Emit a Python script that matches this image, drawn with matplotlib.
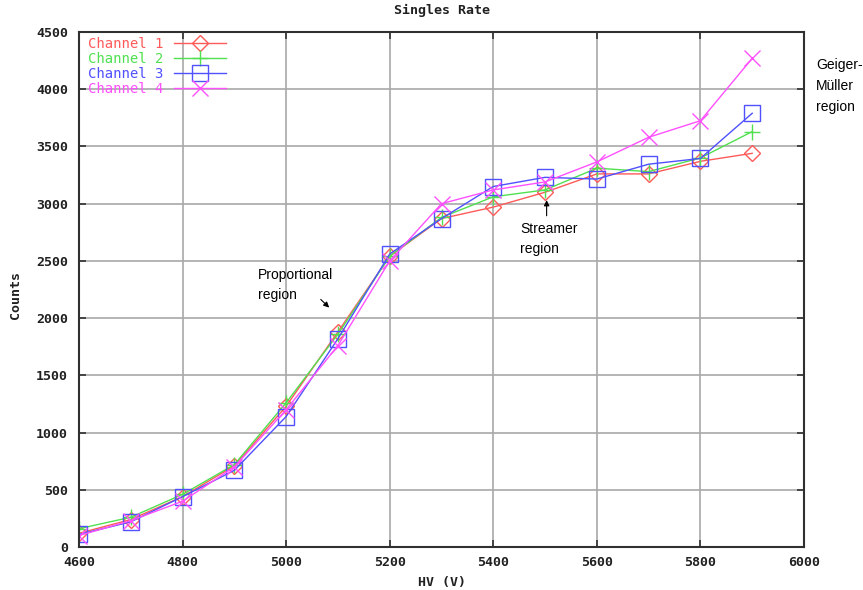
import matplotlib
matplotlib.use("Agg")
import matplotlib.pyplot as plt

hv = [4600, 4700, 4800, 4900, 5000, 5100, 5200, 5300, 5400, 5500, 5600, 5700, 5800, 5900]
ch1 = [120, 240, 440, 710, 1230, 1880, 2540, 2870, 2970, 3100, 3260, 3260, 3370, 3440]
ch2 = [160, 260, 460, 720, 1260, 1860, 2540, 2880, 3060, 3120, 3310, 3280, 3400, 3630]
ch3 = [110, 220, 440, 670, 1140, 1820, 2560, 2870, 3150, 3230, 3215, 3345, 3395, 3790]
ch4 = [100, 230, 400, 700, 1200, 1760, 2500, 3000, 3120, 3190, 3365, 3580, 3725, 4270]
labels = ["Channel 1", "Channel 2", "Channel 3", "Channel 4"]
colors = ["#ff5a5a", "#50e050", "#5050ff", "#ff50ff"]
markers = ["D", "+", "s", "x"]
msizes = [8, 11, 11, 11]

W, H = 863, 590
mono = "DejaVu Sans Mono"
fig = plt.figure(figsize=(W/100, H/100), dpi=100)
ax = fig.add_axes([79/W, 1-547/H, (804-79)/W, (547-32)/H])

for y, lab, c, m, ms in zip([ch1, ch2, ch3, ch4], labels, colors, markers, msizes):
    ax.plot(hv, y, color=c, marker=m, markersize=ms, markerfacecolor="none",
            markeredgecolor=c, markeredgewidth=1.0, linewidth=1.0, label=lab)

ax.set_xlim(4600, 6000)
ax.set_ylim(0, 4500)
ax.set_xticks(range(4600, 6001, 200))
ax.set_yticks(range(0, 4501, 500))
ax.grid(True, color="#a8a8a8", linewidth=1.2)
ax.tick_params(axis="both", direction="in", top=True, right=True, length=5, width=1.2,
               labelsize=9.5, color="#303030")
ax.tick_params(axis="y", pad=8)
ax.tick_params(axis="x", pad=6.5)
for lbl in ax.get_xticklabels() + ax.get_yticklabels():
    lbl.set_family(mono)
    lbl.set_weight("bold")
    lbl.set_color("#202020")
for s in ax.spines.values():
    s.set_linewidth(1.5)
    s.set_color("#303030")

ax.set_xlabel("HV (V)", family=mono, fontsize=9.5, weight="bold", labelpad=5, color="#202020")
ax.set_ylabel("Counts", family=mono, fontsize=9.5, weight="bold", color="#202020")
ax.yaxis.set_label_coords((22-79)/(804-79), (547-295)/(547-32))
ax.set_title("Singles Rate", family=mono, fontsize=9.5, weight="bold", pad=13, color="#202020")

leg = ax.legend(loc="upper left", frameon=False, markerfirst=False,
                labelcolor="linecolor", handlelength=3.7,
                prop={"family": mono, "size": 10},
                bbox_to_anchor=(88/W, 1-37/H), bbox_transform=fig.transFigure,
                borderaxespad=0, borderpad=0, labelspacing=0.08, handletextpad=0.8)

sans = "Liberation Sans"
ax.text(4946, 2290, "Proportional\nregion", family=sans, fontsize=10,
        ha="left", va="center", linespacing=1.6)
ax.annotate("", xy=(5087, 2075), xytext=(5063, 2180),
            arrowprops=dict(arrowstyle="-|>", color="black", lw=0.8, mutation_scale=8))
ax.text(5452, 2690, "Streamer\nregion", family=sans, fontsize=10,
        ha="left", va="center", linespacing=1.6)
ax.annotate("", xy=(5503, 3055), xytext=(5503, 2870),
            arrowprops=dict(arrowstyle="-|>", color="black", lw=0.8, mutation_scale=8))
fig.text(816/W, 1-86/H, "Geiger-\nMüller\nregion", family=sans, fontsize=10,
         ha="left", va="center", linespacing=1.65)

fig.savefig("out.png", dpi=100)
